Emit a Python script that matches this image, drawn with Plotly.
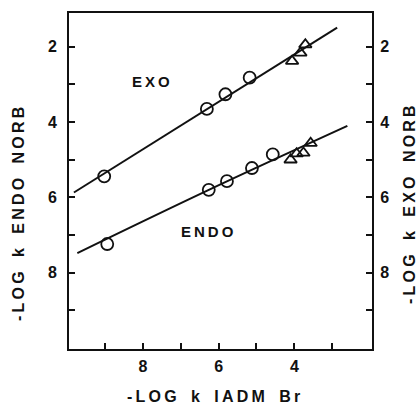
import plotly.graph_objects as go

# Data
exo_circ_x = [9.02, 6.31, 5.82, 5.18]
exo_circ_y = [5.44, 3.65, 3.26, 2.82]
exo_tri_x = [4.06, 3.84, 3.71]
exo_tri_y = [2.38, 2.16, 1.94]
endo_circ_x = [8.94, 6.26, 5.78, 5.12, 4.57]
endo_circ_y = [7.24, 5.80, 5.57, 5.22, 4.86]
endo_tri_x = [4.10, 3.94, 3.76, 3.57]
endo_tri_y = [5.00, 4.84, 4.82, 4.56]
exo_line_x = [9.82, 2.87]
exo_line_y = [5.87, 1.49]
endo_line_x = [9.73, 6.30, 2.60]
endo_line_y = [7.48, 5.82, 4.10]

x_ticks = [9, 8, 7, 6, 5, 4, 3]
x_labels = ["", "8", "", "6", "", "4", ""]
y_ticks = [2, 3, 4, 5, 6, 7, 8, 9]
y_labels = ["2", "", "4", "", "6", "", "8", ""]


def spaced(s):
    out = []
    for w in s.split(" "):
        out.append("\u2009".join(w))
    return "\u2009\u2009\u2002".join(out)


BLACK = "#111111"
FONT = "Liberation Sans"

fig = go.Figure()
line_style = dict(color=BLACK, width=2)
fig.add_trace(go.Scatter(x=exo_line_x, y=exo_line_y, mode="lines", line=line_style))
fig.add_trace(go.Scatter(x=endo_line_x, y=endo_line_y, mode="lines",
                         line=dict(color=BLACK, width=2, shape="spline")))
circ = dict(symbol="circle-open", size=12, color=BLACK, line=dict(width=1.8, color=BLACK))
tri = dict(symbol="triangle-up-open", size=11, color=BLACK, line=dict(width=1.8, color=BLACK))
fig.add_trace(go.Scatter(x=exo_circ_x, y=exo_circ_y, mode="markers", marker=circ))
fig.add_trace(go.Scatter(x=exo_tri_x, y=exo_tri_y, mode="markers", marker=tri))
fig.add_trace(go.Scatter(x=endo_circ_x, y=endo_circ_y, mode="markers", marker=circ))
fig.add_trace(go.Scatter(x=endo_tri_x, y=endo_tri_y, mode="markers", marker=tri))
# dummy for right axis
fig.add_trace(go.Scatter(x=[None], y=[None], yaxis="y2", showlegend=False))

tickfont = dict(family=FONT, size=16, color=BLACK, weight="bold")
fig.update_layout(
    width=418, height=404,
    margin=dict(l=69, r=46, t=13, b=55, autoexpand=False),
    paper_bgcolor="white", plot_bgcolor="white",
    showlegend=False,
    xaxis=dict(range=[9.95, 1.95], tickvals=x_ticks, ticktext=x_labels,
               ticks="inside", ticklen=6, tickwidth=1.5, tickcolor=BLACK,
               showline=True, linecolor=BLACK, linewidth=2, mirror=True,
               showgrid=False, zeroline=False, tickfont=tickfont,
               ticklabelstandoff=2, automargin=False),
    yaxis=dict(range=[10.03, 1.1], tickvals=y_ticks, ticktext=y_labels,
               ticks="inside", ticklen=6, tickwidth=1.5, tickcolor=BLACK,
               showline=True, linecolor=BLACK, linewidth=2,
               showgrid=False, zeroline=False, tickfont=tickfont,
               ticklabelstandoff=7, automargin=False),
    yaxis2=dict(range=[10.03, 1.1], tickvals=y_ticks, ticktext=y_labels,
                overlaying="y", side="right",
                ticks="inside", ticklen=6, tickwidth=1.5, tickcolor=BLACK,
                showline=True, linecolor=BLACK, linewidth=2,
                showgrid=False, zeroline=False, tickfont=tickfont,
                ticklabelstandoff=3, automargin=False),
)

labfont = dict(family=FONT, size=15, color=BLACK, weight="bold")
fig.add_annotation(x=7.78, y=2.92, xref="x", yref="y", text=spaced("EXO"),
                   showarrow=False, font=labfont)
fig.add_annotation(x=6.30, y=6.90, xref="x", yref="y", text=spaced("ENDO"),
                   showarrow=False, font=labfont)

# axis-title annotations positioned in pixel terms
pw = 418 - 69 - 46
ph = 404 - 13 - 55


def px2paper(px, py):
    return (px - 69) / pw, (404 - 55 - py) / ph


titlefont = dict(family=FONT, size=16, color=BLACK, weight="bold")
for txt, (px, py) in [("-LOG k IADM Br", (213, 396)),
                      ("-LOG k ENDO NORB", (18, 214)),
                      ("-LOG k EXO NORB", (409, 205))]:
    xx, yy = px2paper(px, py)
    fig.add_annotation(xref="paper", yref="paper", x=xx, y=yy, text=spaced(txt),
                       showarrow=False, font=titlefont, xanchor="center", yanchor="middle",
                       textangle=0 if "IADM" in txt else -90)

fig.write_html("out.html", config={"displayModeBar": False},
               post_script="document.body.style.margin='0';document.body.style.overflow='hidden';")
